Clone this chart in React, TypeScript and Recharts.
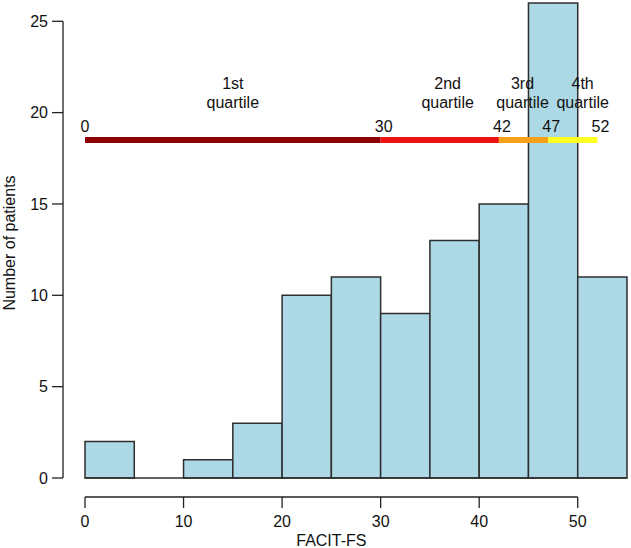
import React from 'react';
import { BarChart, Bar, XAxis, YAxis, ReferenceLine, ReferenceDot } from 'recharts';

// histogram bins (width 5, given by their midpoints) and counts
const binMids = [2.5, 7.5, 12.5, 17.5, 22.5, 27.5, 32.5, 37.5, 42.5, 47.5, 52.5];
const patientCounts = [2, 0, 1, 3, 10, 11, 9, 13, 15, 26, 11];
const xTicks = [0, 10, 20, 30, 40, 50];
const yTicks = [0, 5, 10, 15, 20, 25];

// quartile bar drawn across the plot
const quartileBreaks = [0, 30, 42, 47, 52];
const quartileNames = ['1st', '2nd', '3rd', '4th'];
const quartileLabelX = [15, 36.8, 44.4, 50.5];
const quartileColors = ['#8b0000', '#ee1111', '#f7a11a', '#ffff22'];
const QUARTILE_Y = 18.5;

// R-style detached axes
const Y_AXIS_LINE_X = -2.23;
const X_AXIS_LINE_Y = -1.04;

const FONT = '"Liberation Sans", Arial, sans-serif';
const INK = '#222';

const data = binMids.map((mid, i) => ({ mid, count: patientCounts[i] }));

const YTick = ({ x, y, payload }: any) => (
  <g>
    <line x1={x - 33} x2={x - 22} y1={y} y2={y} stroke={INK} strokeWidth={1.3} />
    <text x={x - 37} y={y} dy="0.36em" textAnchor="end" fontSize={16} fontFamily={FONT} fill="#111">
      {payload.value}
    </text>
  </g>
);

const XTick = ({ x, y, payload }: any) => (
  <g>
    <line x1={x} x2={x} y1={y + 19} y2={y + 30} stroke={INK} strokeWidth={1.3} />
    <text x={x} y={y + 43} dy="0.36em" textAnchor="middle" fontSize={16} fontFamily={FONT} fill="#111">
      {payload.value}
    </text>
  </g>
);

const App = () => {
  return (
    <div style={{ position: 'absolute', left: 0, top: 0, background: '#fff' }}>
      <BarChart
        width={631}
        height={548}
        data={data}
        margin={{ top: 3, right: 4, bottom: 0, left: 0 }}
        barCategoryGap={0}
      >
        <XAxis
          dataKey="mid"
          type="number"
          domain={[0, 55]}
          ticks={xTicks}
          height={70}
          axisLine={false}
          tickLine={false}
          tickSize={0}
          tickMargin={0}
          tick={<XTick />}
          label={{
            content: ({ viewBox }: any) => (
              <text
                x={viewBox.x + (viewBox.width * 25) / 55}
                y={viewBox.y + 62}
                dy="0.36em"
                textAnchor="middle"
                fontSize={16}
                fontFamily={FONT}
                fill="#111"
              >
                FACIT-FS
              </text>
            ),
          }}
        />
        <YAxis
          type="number"
          domain={[0, 26]}
          ticks={yTicks}
          width={85}
          axisLine={false}
          tickLine={false}
          tickSize={0}
          tickMargin={0}
          tick={<YTick />}
          label={{
            content: () => (
              <text
                x={9}
                y={243}
                dy="0.36em"
                textAnchor="middle"
                transform="rotate(-90, 9, 243)"
                fontSize={16}
                fontFamily={FONT}
                fill="#111"
              >
                Number of patients
              </text>
            ),
          }}
        />
        <Bar
          dataKey="count"
          barSize={49.27}
          fill="#add8e6"
          stroke="#2e2e2e"
          strokeWidth={1.5}
          isAnimationActive={false}
        />
        <ReferenceLine
          segment={[{ x: 0, y: 0 }, { x: 55, y: 0 }]}
          stroke="#2e2e2e"
          strokeWidth={1.5}
          ifOverflow="visible"
        />
        <ReferenceLine
          segment={[{ x: Y_AXIS_LINE_X, y: 0 }, { x: Y_AXIS_LINE_X, y: 25 }]}
          stroke={INK}
          strokeWidth={1.3}
          ifOverflow="visible"
        />
        <ReferenceLine
          segment={[{ x: 0, y: X_AXIS_LINE_Y }, { x: 50, y: X_AXIS_LINE_Y }]}
          stroke={INK}
          strokeWidth={1.3}
          ifOverflow="visible"
        />
        {quartileColors.map((color, i) => (
          <ReferenceLine
            key={'q' + i}
            segment={[
              { x: quartileBreaks[i], y: QUARTILE_Y },
              { x: quartileBreaks[i + 1], y: QUARTILE_Y },
            ]}
            stroke={color}
            strokeWidth={6}
            ifOverflow="visible"
          />
        ))}
        {quartileBreaks.map((b) => (
          <ReferenceDot
            key={'b' + b}
            x={b}
            y={QUARTILE_Y}
            r={1}
            ifOverflow="visible"
            shape={(p: any) => (
              <text x={p.cx + (b > 0 ? 3 : 0)} y={p.cy - 8} textAnchor="middle" fontSize={16} fontFamily={FONT} fill="#111">
                {b}
              </text>
            )}
          />
        ))}
        {quartileNames.map((name, i) => (
          <ReferenceDot
            key={'n' + i}
            x={quartileLabelX[i]}
            y={QUARTILE_Y}
            r={1}
            ifOverflow="visible"
            shape={(p: any) => (
              <text textAnchor="middle" fontSize={16} fontFamily={FONT} fill="#111">
                <tspan x={p.cx} y={p.cy - 51}>{name}</tspan>
                <tspan x={p.cx} y={p.cy - 32}>quartile</tspan>
              </text>
            )}
          />
        ))}
      </BarChart>
    </div>
  );
};

export default App;
